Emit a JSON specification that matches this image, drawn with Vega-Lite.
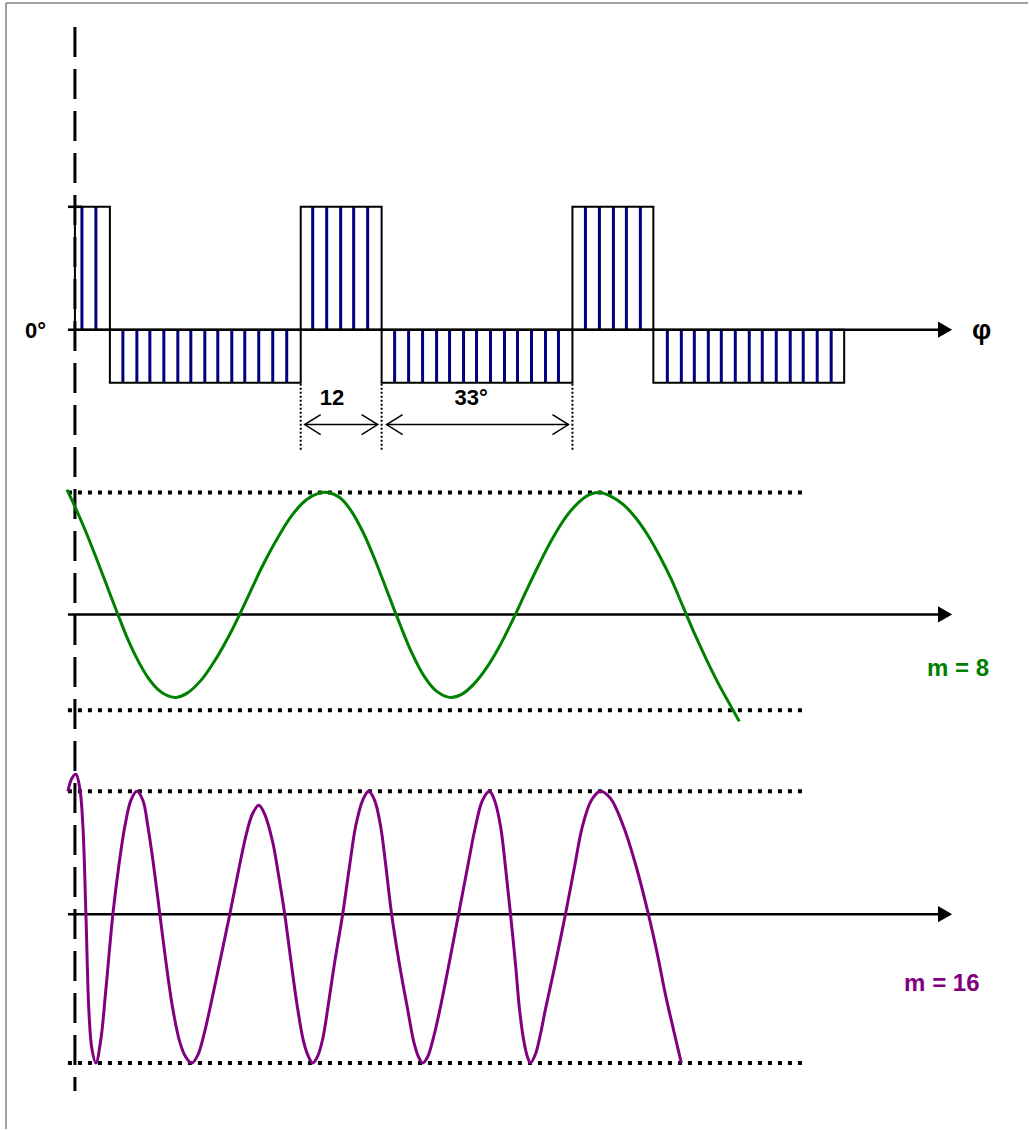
{
  "$schema": "https://vega.github.io/schema/vega-lite/v6.json",
  "width": 1029,
  "height": 1130,
  "autosize": {"type": "fit", "contains": "padding"},
  "padding": 0,
  "background": "white",
  "config": {"view": {"stroke": null}},
  "datasets": {
    "frame": [
      {"x": 6, "y": 3, "x2": 6, "y2": 1130},
      {"x": 6, "y": 3, "x2": 1029, "y2": 3}
    ],
    "pulses": [
      {"x": 75, "x2": 110, "y": 330, "y2": 207},
      {"x": 110, "x2": 301, "y": 330, "y2": 383},
      {"x": 301, "x2": 382, "y": 330, "y2": 207},
      {"x": 382, "x2": 573, "y": 330, "y2": 383},
      {"x": 573, "x2": 654, "y": 330, "y2": 207},
      {"x": 654, "x2": 845, "y": 330, "y2": 383}
    ],
    "hatch": [
      {"x": 82, "y": 330, "y2": 207}, {"x": 96, "y": 330, "y2": 207},
      {"x": 123, "y": 330, "y2": 383}, {"x": 137, "y": 330, "y2": 383}, {"x": 150, "y": 330, "y2": 383},
      {"x": 164, "y": 330, "y2": 383}, {"x": 178, "y": 330, "y2": 383}, {"x": 191, "y": 330, "y2": 383},
      {"x": 205, "y": 330, "y2": 383}, {"x": 218, "y": 330, "y2": 383}, {"x": 232, "y": 330, "y2": 383},
      {"x": 245, "y": 330, "y2": 383}, {"x": 259, "y": 330, "y2": 383}, {"x": 273, "y": 330, "y2": 383},
      {"x": 287, "y": 330, "y2": 383},
      {"x": 313, "y": 330, "y2": 207}, {"x": 327, "y": 330, "y2": 207}, {"x": 341, "y": 330, "y2": 207},
      {"x": 354, "y": 330, "y2": 207}, {"x": 368, "y": 330, "y2": 207},
      {"x": 395, "y": 330, "y2": 383}, {"x": 409, "y": 330, "y2": 383}, {"x": 423, "y": 330, "y2": 383},
      {"x": 437, "y": 330, "y2": 383}, {"x": 450, "y": 330, "y2": 383}, {"x": 464, "y": 330, "y2": 383},
      {"x": 477, "y": 330, "y2": 383}, {"x": 491, "y": 330, "y2": 383}, {"x": 505, "y": 330, "y2": 383},
      {"x": 518, "y": 330, "y2": 383}, {"x": 532, "y": 330, "y2": 383}, {"x": 546, "y": 330, "y2": 383},
      {"x": 559, "y": 330, "y2": 383},
      {"x": 586, "y": 330, "y2": 207}, {"x": 600, "y": 330, "y2": 207}, {"x": 614, "y": 330, "y2": 207},
      {"x": 627, "y": 330, "y2": 207}, {"x": 641, "y": 330, "y2": 207},
      {"x": 668, "y": 330, "y2": 383}, {"x": 682, "y": 330, "y2": 383}, {"x": 695, "y": 330, "y2": 383},
      {"x": 709, "y": 330, "y2": 383}, {"x": 722, "y": 330, "y2": 383}, {"x": 736, "y": 330, "y2": 383},
      {"x": 750, "y": 330, "y2": 383}, {"x": 763, "y": 330, "y2": 383}, {"x": 777, "y": 330, "y2": 383},
      {"x": 791, "y": 330, "y2": 383}, {"x": 804, "y": 330, "y2": 383}, {"x": 818, "y": 330, "y2": 383},
      {"x": 832, "y": 330, "y2": 383}
    ],
    "axes": [
      {"x": 68, "x2": 942, "y": 330},
      {"x": 68, "x2": 942, "y": 615},
      {"x": 68, "x2": 942, "y": 915},
      {"x": 68, "x2": 82, "y": 207}
    ],
    "arrowheads": [
      {"x": 946, "y": 330},
      {"x": 946, "y": 615},
      {"x": 946, "y": 915}
    ],
    "zeroline": [
      {"x": 75, "y": 27, "y2": 1092}
    ],
    "bounds": [
      {"x": 68, "x2": 805, "y": 493},
      {"x": 68, "x2": 805, "y": 711},
      {"x": 68, "x2": 805, "y": 792},
      {"x": 68, "x2": 805, "y": 1064}
    ],
    "guides": [
      {"x": 301, "y": 384, "y2": 452},
      {"x": 382, "y": 384, "y2": 452},
      {"x": 573, "y": 384, "y2": 452}
    ],
    "dims": [
      {"x": 305, "x2": 378, "y": 425},
      {"x": 387, "x2": 569, "y": 425}
    ],
    "chevrons": [
      {"x": 313, "y": 425, "dir": "left"},
      {"x": 370, "y": 425, "dir": "right"},
      {"x": 395, "y": 425, "dir": "left"},
      {"x": 561, "y": 425, "dir": "right"}
    ],
    "m8": [
      {"x": 67, "y": 490}, {"x": 75, "y": 507}, {"x": 85, "y": 530}, {"x": 95, "y": 555},
      {"x": 105, "y": 581}, {"x": 118, "y": 615}, {"x": 128, "y": 640}, {"x": 138, "y": 661},
      {"x": 148, "y": 678}, {"x": 158, "y": 690}, {"x": 167, "y": 696}, {"x": 176, "y": 698},
      {"x": 187, "y": 694}, {"x": 202, "y": 680}, {"x": 217, "y": 658}, {"x": 232, "y": 631},
      {"x": 247, "y": 600}, {"x": 262, "y": 568}, {"x": 277, "y": 540}, {"x": 292, "y": 516},
      {"x": 307, "y": 500}, {"x": 318, "y": 494}, {"x": 328, "y": 493},
      {"x": 340, "y": 498}, {"x": 352, "y": 512}, {"x": 364, "y": 534}, {"x": 376, "y": 562},
      {"x": 388, "y": 593}, {"x": 400, "y": 624}, {"x": 412, "y": 653}, {"x": 424, "y": 676},
      {"x": 436, "y": 691}, {"x": 450, "y": 698},
      {"x": 462, "y": 695}, {"x": 475, "y": 684}, {"x": 488, "y": 667}, {"x": 501, "y": 645},
      {"x": 514, "y": 619}, {"x": 527, "y": 591}, {"x": 540, "y": 564}, {"x": 553, "y": 539},
      {"x": 566, "y": 518}, {"x": 579, "y": 503}, {"x": 590, "y": 495}, {"x": 600, "y": 493},
      {"x": 612, "y": 497}, {"x": 624, "y": 505}, {"x": 636, "y": 518}, {"x": 648, "y": 535},
      {"x": 660, "y": 556}, {"x": 672, "y": 580}, {"x": 684, "y": 608}, {"x": 696, "y": 636},
      {"x": 708, "y": 662}, {"x": 720, "y": 686}, {"x": 730, "y": 704}, {"x": 740, "y": 722}
    ],
    "m16": [
      {"x": 68, "y": 792}, {"x": 72, "y": 779}, {"x": 76, "y": 775}, {"x": 80, "y": 790},
      {"x": 83, "y": 827}, {"x": 86, "y": 915}, {"x": 89, "y": 1012}, {"x": 92, "y": 1050},
      {"x": 96, "y": 1064},
      {"x": 101, "y": 1040}, {"x": 106, "y": 990}, {"x": 113, "y": 915}, {"x": 119, "y": 866},
      {"x": 125, "y": 827}, {"x": 131, "y": 801}, {"x": 137, "y": 792},
      {"x": 143, "y": 801}, {"x": 148, "y": 827}, {"x": 154, "y": 868}, {"x": 160, "y": 915},
      {"x": 166, "y": 962}, {"x": 173, "y": 1010}, {"x": 180, "y": 1043}, {"x": 186, "y": 1058},
      {"x": 192, "y": 1064},
      {"x": 198, "y": 1056}, {"x": 204, "y": 1036}, {"x": 210, "y": 1010}, {"x": 220, "y": 963},
      {"x": 230, "y": 915}, {"x": 239, "y": 870}, {"x": 247, "y": 833}, {"x": 253, "y": 814},
      {"x": 259, "y": 806},
      {"x": 265, "y": 815}, {"x": 273, "y": 843}, {"x": 279, "y": 877}, {"x": 285, "y": 915},
      {"x": 291, "y": 960}, {"x": 298, "y": 1010}, {"x": 304, "y": 1043}, {"x": 309, "y": 1058},
      {"x": 313, "y": 1064},
      {"x": 318, "y": 1057}, {"x": 323, "y": 1040}, {"x": 328, "y": 1010}, {"x": 335, "y": 963},
      {"x": 343, "y": 915}, {"x": 350, "y": 866}, {"x": 356, "y": 827}, {"x": 363, "y": 801},
      {"x": 369, "y": 792},
      {"x": 375, "y": 801}, {"x": 381, "y": 827}, {"x": 386, "y": 865}, {"x": 392, "y": 915},
      {"x": 400, "y": 966}, {"x": 408, "y": 1010}, {"x": 414, "y": 1042}, {"x": 419, "y": 1058},
      {"x": 423, "y": 1064},
      {"x": 428, "y": 1058}, {"x": 434, "y": 1038}, {"x": 440, "y": 1012}, {"x": 450, "y": 962},
      {"x": 459, "y": 915}, {"x": 468, "y": 868}, {"x": 476, "y": 827}, {"x": 483, "y": 801},
      {"x": 490, "y": 792},
      {"x": 495, "y": 801}, {"x": 501, "y": 827}, {"x": 506, "y": 868}, {"x": 511, "y": 915},
      {"x": 516, "y": 965}, {"x": 520, "y": 1010}, {"x": 524, "y": 1040}, {"x": 528, "y": 1058},
      {"x": 531, "y": 1064},
      {"x": 536, "y": 1055}, {"x": 541, "y": 1035}, {"x": 546, "y": 1010}, {"x": 556, "y": 964},
      {"x": 566, "y": 915}, {"x": 575, "y": 868}, {"x": 583, "y": 827}, {"x": 592, "y": 801},
      {"x": 601, "y": 792},
      {"x": 611, "y": 799}, {"x": 624, "y": 827}, {"x": 637, "y": 868}, {"x": 649, "y": 915},
      {"x": 658, "y": 955}, {"x": 666, "y": 995}, {"x": 674, "y": 1030}, {"x": 682, "y": 1064}
    ],
    "labels": [
      {"text": "0°", "x": 25, "y": 338, "series": "axis"},
      {"text": "12", "x": 320, "y": 405, "series": "axis"},
      {"text": "33°", "x": 455, "y": 405, "series": "axis"},
      {"text": "φ", "x": 973, "y": 339, "series": "phi"},
      {"text": "m = 8", "x": 928, "y": 677, "series": "m8"},
      {"text": "m = 16", "x": 905, "y": 992, "series": "m16"}
    ]
  },
  "encoding": {
    "x": {"field": "x", "type": "quantitative", "scale": {"domain": [0, 1029], "nice": false, "zero": false}, "axis": null},
    "y": {"field": "y", "type": "quantitative", "scale": {"domain": [0, 1130], "reverse": true, "nice": false, "zero": false}, "axis": null}
  },
  "layer": [
    {
      "data": {"name": "frame"},
      "mark": {"type": "rule", "color": "#a0a0a0", "strokeWidth": 2},
      "encoding": {"x2": {"field": "x2"}, "y2": {"field": "y2"}}
    },
    {
      "data": {"name": "hatch"},
      "mark": {"type": "rule", "color": "#000080", "strokeWidth": 3},
      "encoding": {"y2": {"field": "y2"}}
    },
    {
      "data": {"name": "pulses"},
      "mark": {"type": "rect", "fillOpacity": 0, "stroke": "black", "strokeWidth": 2},
      "encoding": {"x2": {"field": "x2"}, "y2": {"field": "y2"}}
    },
    {
      "data": {"name": "axes"},
      "mark": {"type": "rule", "color": "black", "strokeWidth": 2.5},
      "encoding": {"x2": {"field": "x2"}}
    },
    {
      "data": {"name": "arrowheads"},
      "mark": {"type": "point", "shape": "M-1,-1.15L1,0L-1,1.15Z", "filled": true, "opacity": 1, "color": "black", "size": 200},
      "encoding": {}
    },
    {
      "data": {"name": "zeroline"},
      "mark": {"type": "rule", "color": "black", "strokeWidth": 3, "strokeDash": [30, 12]},
      "encoding": {"y2": {"field": "y2"}}
    },
    {
      "data": {"name": "bounds"},
      "mark": {"type": "rule", "color": "black", "strokeWidth": 4, "strokeDash": [4, 6]},
      "encoding": {"x2": {"field": "x2"}}
    },
    {
      "data": {"name": "guides"},
      "mark": {"type": "rule", "color": "black", "strokeWidth": 2, "strokeDash": [2, 2]},
      "encoding": {"y2": {"field": "y2"}}
    },
    {
      "data": {"name": "dims"},
      "mark": {"type": "rule", "color": "black", "strokeWidth": 1.5},
      "encoding": {"x2": {"field": "x2"}}
    },
    {
      "data": {"name": "chevrons"},
      "mark": {"type": "point", "filled": false, "opacity": 1, "color": "black", "strokeWidth": 1.5, "size": 256},
      "encoding": {
        "shape": {"field": "dir", "type": "nominal", "scale": {"domain": ["left", "right"], "range": ["M1,-1.25L-1,0L1,1.25", "M-1,-1.25L1,0L-1,1.25"]}, "legend": null}
      }
    },
    {
      "data": {"name": "m8"},
      "mark": {"type": "line", "color": "#008000", "strokeWidth": 3, "interpolate": "catmull-rom"},
      "encoding": {}
    },
    {
      "data": {"name": "m16"},
      "mark": {"type": "line", "color": "#800080", "strokeWidth": 3, "interpolate": "catmull-rom"},
      "encoding": {}
    },
    {
      "data": {"name": "labels"},
      "transform": [{"filter": "datum.series === 'axis'"}],
      "mark": {"type": "text", "font": "Liberation Sans", "fontWeight": "bold", "fontSize": 22, "align": "left", "baseline": "alphabetic", "color": "black"},
      "encoding": {"text": {"field": "text"}}
    },
    {
      "data": {"name": "labels"},
      "transform": [{"filter": "datum.series === 'phi'"}],
      "mark": {"type": "text", "font": "Liberation Sans", "fontWeight": "bold", "fontSize": 27, "align": "left", "baseline": "alphabetic", "color": "black"},
      "encoding": {"text": {"field": "text"}}
    },
    {
      "data": {"name": "labels"},
      "transform": [{"filter": "datum.series === 'm8'"}],
      "mark": {"type": "text", "font": "Liberation Sans", "fontWeight": "bold", "fontSize": 24, "align": "left", "baseline": "alphabetic", "color": "#008000"},
      "encoding": {"text": {"field": "text"}}
    },
    {
      "data": {"name": "labels"},
      "transform": [{"filter": "datum.series === 'm16'"}],
      "mark": {"type": "text", "font": "Liberation Sans", "fontWeight": "bold", "fontSize": 24, "align": "left", "baseline": "alphabetic", "color": "#800080"},
      "encoding": {"text": {"field": "text"}}
    }
  ]
}
